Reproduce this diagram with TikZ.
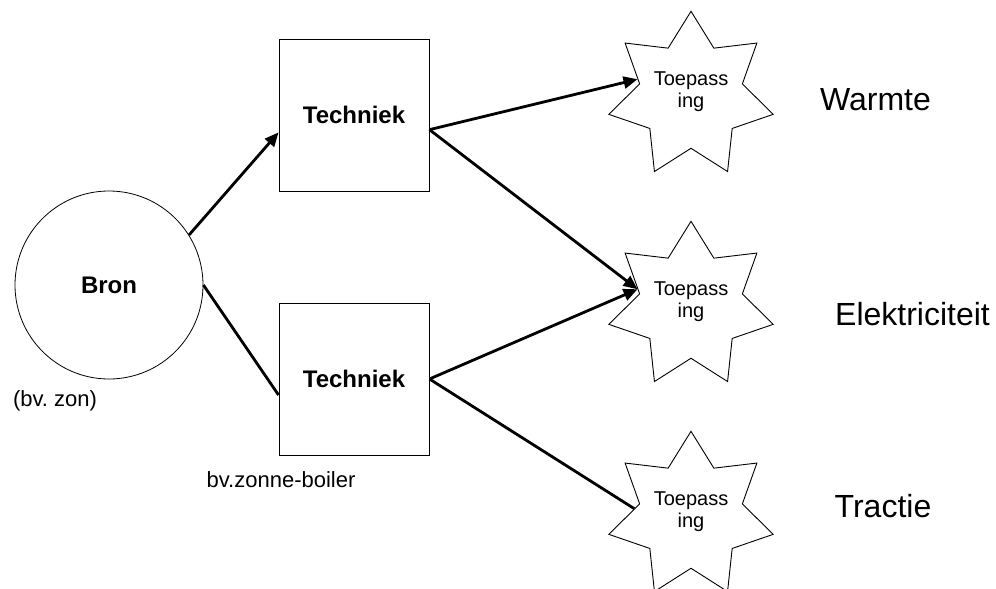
\documentclass[tikz,border=0pt]{standalone}
\usepackage{fontspec}
\setmainfont{Liberation Sans}
\usetikzlibrary{shapes.geometric,arrows.meta}

\begin{document}
\begin{tikzpicture}[x=1pt,y=-1pt,
            blok/.style={draw, line width=0.9pt, minimum width=150pt, minimum height=152pt, font=\fontsize{24}{28}\selectfont\bfseries},
            toep/.style={draw, star, star points=7, star point ratio=1.6, minimum size=165pt, inner sep=0pt, line width=0.9pt, align=center, text depth=12pt, font=\fontsize{20}{22}\selectfont},
            pijl/.style={line width=2.8pt, -{Triangle[length=14pt,width=12pt]}},
            lijn/.style={line width=2.8pt},
            doel/.style={font=\fontsize{32}{38}\selectfont},
            vb/.style={font=\fontsize{22}{26}\selectfont}]
            \clip (0,0) rectangle (996,589);
            \node[draw, circle, minimum size=188pt, line width=0.8pt, font=\fontsize{24}{28}\selectfont\bfseries] (bron) at (109,285) {Bron};
            \node[blok] (tech1) at (354,115) {Techniek};
            \node[blok] (tech2) at (354,379) {Techniek};
            \node[toep] (toep1) at (691,95.6) {Toepass\\ing};
            \node[toep] (toep2) at (691,305.6) {Toepass\\ing};
            \node[toep] (toep3) at (691,515.6) {Toepass\\ing};
            \node[vb] (zon) at (55,401) {(bv.\ zon)};
            \node[vb] (boiler) at (281,480) {bv.zonne-boiler};
            \node[doel] (warmte) at (875.5,99.5) {Warmte};
            \node[doel] (elek) at (912.5,314.5) {Elektriciteit};
            \node[doel] (tractie) at (883,506.5) {Tractie};
            % verbindingen
            \draw[pijl] (bron.32) -- (tech1.193.5);
            \draw[lijn] (bron.east) -- (tech2.192);
            \draw[pijl] (tech1.-11.3) -- (toep1.163);
            \draw[pijl] (tech1.-11.3) -- (toep2.163);
            \draw[pijl] (tech2.east) -- (toep2.163);
            \draw[lijn] (tech2.east) -- (toep3.173);
\end{tikzpicture}
\end{document}
